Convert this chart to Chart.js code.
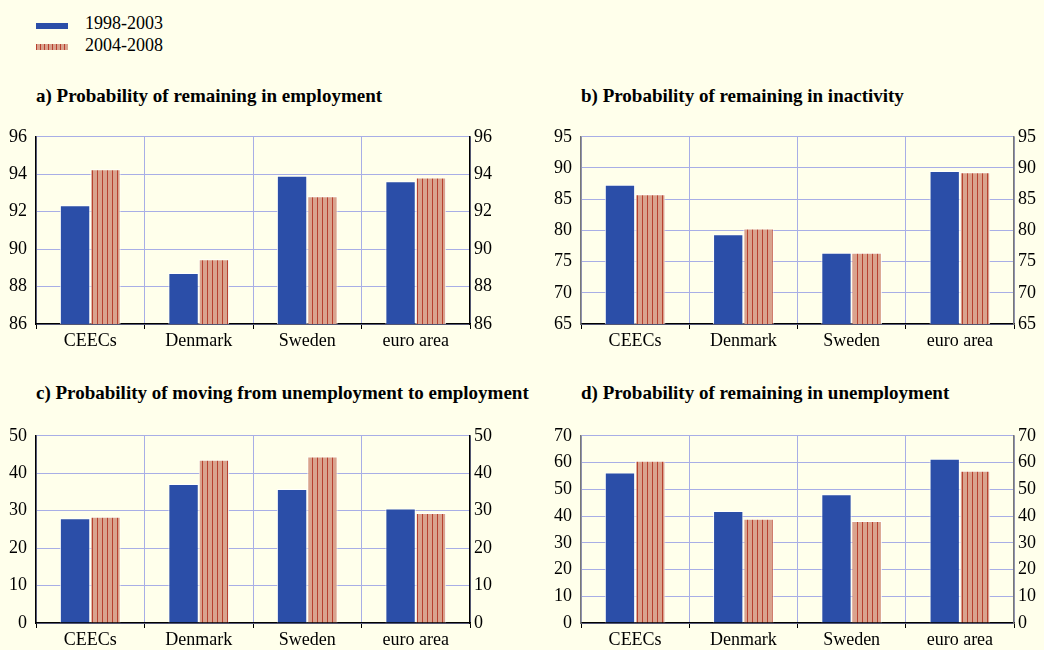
<!DOCTYPE html>
<html>
<head>
<meta charset="utf-8">
<script src="https://cdn.jsdelivr.net/npm/chart.js@4.4.1/dist/chart.umd.min.js"></script>
<style>
  body { margin: 0; background: #FFFFEB; width: 1044px; height: 650px; overflow: hidden;
         font-family: "Liberation Serif", "DejaVu Serif", serif; }
  canvas { position: absolute; }
  .title { position: absolute; font-weight: bold; font-size: 19px; line-height: 22px; color: #000; white-space: nowrap; }
  .leg { position: absolute; font-size: 18px; line-height: 20px; color: #000; }
  .sw { position: absolute; width: 32px; height: 6px; }
</style>
</head>
<body>
<div class="sw" style="left:36px;top:23px;background:#2B4EA8;"></div>
<div class="leg" style="left:85px;top:13px;">1998-2003</div>
<div class="sw" style="left:36px;top:44px;background:repeating-linear-gradient(90deg,#B8402F 0 1px,#D9A38E 1px 4px);"></div>
<div class="leg" style="left:85px;top:35px;">2004-2008</div>

<div class="title" style="left:36px;top:85px;">a) Probability of remaining in employment</div>
<div class="title" style="left:581px;top:85px;">b) Probability of remaining in inactivity</div>
<div class="title" style="left:36px;top:382px;">c) Probability of moving from unemployment to employment</div>
<div class="title" style="left:581px;top:382px;">d) Probability of remaining in unemployment</div>

<canvas id="ca" width="510" height="233" style="left:0;top:117px;"></canvas>
<canvas id="cb" width="499" height="233" style="left:545px;top:117px;"></canvas>
<canvas id="cc" width="510" height="234" style="left:0;top:416px;"></canvas>
<canvas id="cd" width="499" height="234" style="left:545px;top:416px;"></canvas>

<script>
const categories = ['CEECs', 'Denmark', 'Sweden', 'euro area'];
const seriesNames = ['1998-2003', '2004-2008'];

// a) remaining in employment
const empA = [92.35, 88.72, 93.92, 93.62];
const empB = [94.27, 89.46, 92.83, 93.83];
// b) remaining in inactivity
const inactA = [87.3, 79.4, 76.4, 89.5];
const inactB = [85.8, 80.3, 76.4, 89.3];
// c) unemployment to employment
const u2eA = [28.0, 37.1, 35.8, 30.6];
const u2eB = [28.4, 43.6, 44.5, 29.4];
// d) remaining in unemployment
const unempA = [56.3, 41.9, 48.1, 61.4];
const unempB = [60.7, 39.0, 38.1, 56.9];

const axisA = { min: 86, max: 96, step: 2 };
const axisB = { min: 65, max: 95, step: 5 };
const axisC = { min: 0, max: 50, step: 10 };
const axisD = { min: 0, max: 70, step: 10 };

const blue = '#2B4EA8';
const gridCol = '#A8AEE6';
const font = { family: '"Liberation Serif", serif', size: 18 };

function stripes(ctx) {
  const p = document.createElement('canvas');
  p.width = 5; p.height = 4;
  const g = p.getContext('2d');
  g.fillStyle = '#D9A38E';
  g.fillRect(0, 0, 5, 4);
  g.fillStyle = '#B8402F';
  g.fillRect(2, 0, 1, 4);
  return ctx.createPattern(p, 'repeat');
}

function makeChart(id, v1, v2, ax, axisCol, leftW, rightW, xH) {
  const ctx = document.getElementById(id).getContext('2d');
  return new Chart(ctx, {
    type: 'bar',
    data: {
      labels: categories,
      datasets: [
        { label: seriesNames[0], data: v1, backgroundColor: blue,
          borderColor: 'rgba(255,255,255,0.85)', borderWidth: 1 },
        { label: seriesNames[1], data: v2, backgroundColor: stripes(ctx),
          borderColor: 'rgba(255,255,255,0.85)', borderWidth: 1 }
      ]
    },
    options: {
      responsive: false,
      animation: false,
      devicePixelRatio: 1,
      layout: { padding: 0 },
      plugins: { legend: { display: false }, tooltip: { enabled: false } },
      datasets: { bar: { categoryPercentage: 0.56, barPercentage: 1 } },
      scales: {
        x: {
          grid: { color: gridCol, tickColor: '#000', tickLength: 5, offset: true },
          border: { color: '#000', width: 1.5 },
          ticks: { color: '#000', font: font, padding: 1 },
          afterFit: s => { s.height = xH; }
        },
        y: {
          position: 'left',
          min: ax.min, max: ax.max,
          grid: { color: gridCol, drawTicks: false },
          border: { color: axisCol, width: 1.5 },
          ticks: { stepSize: ax.step, color: '#000', font: font, padding: 9 },
          afterFit: s => { s.width = leftW; }
        },
        y2: {
          position: 'right',
          min: ax.min, max: ax.max,
          grid: { drawOnChartArea: false, drawTicks: false },
          border: { color: axisCol, width: 1.5 },
          ticks: { stepSize: ax.step, color: '#000', font: font, padding: 4 },
          afterFit: s => { s.width = rightW; }
        }
      }
    }
  });
}

makeChart('ca', empA, empB, axisA, '#000', 36, 40, 26);
makeChart('cb', inactA, inactB, axisB, '#777', 36, 30, 26);
makeChart('cc', u2eA, u2eB, axisC, '#000', 36, 40, 27);
makeChart('cd', unempA, unempB, axisD, '#777', 36, 30, 27);
</script>
</body>
</html>
